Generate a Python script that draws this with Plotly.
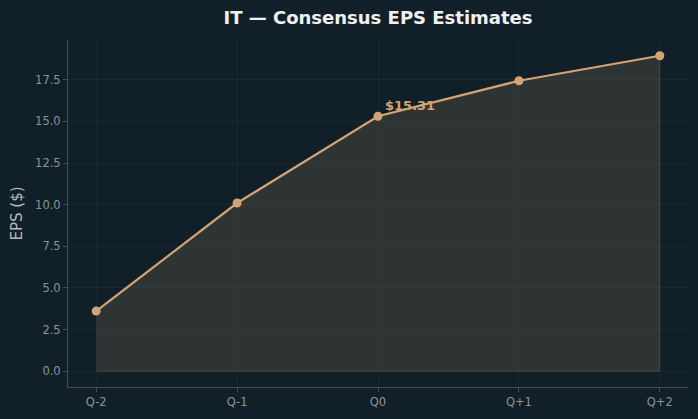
import plotly.graph_objects as go

categories = ["Q-2", "Q-1", "Q0", "Q+1", "Q+2"]
eps_values = [3.61, 10.10, 15.31, 17.44, 18.94]
y_tick_vals = [0.0, 2.5, 5.0, 7.5, 10.0, 12.5, 15.0, 17.5]
y_tick_text = ["0.0", "2.5", "5.0", "7.5", "10.0", "12.5", "15.0", "17.5"]
highlight_label = "$15.31"
highlight_index = 2

BG = "#112028"
LINE = "#d4a373"
FONT = "DejaVu Sans"

xi = list(range(len(categories)))
baseline = [0.0] * len(categories)

fig = go.Figure()
# filled area polygon (values down to zero)
fig.add_trace(go.Scatter(
    x=xi + xi[::-1], y=eps_values + baseline[::-1],
    fill="toself", fillcolor="rgba(212,163,115,0.15)",
    line=dict(color="rgba(212,163,115,0.18)", width=1),
    mode="lines", hoverinfo="skip", showlegend=False))
fig.add_trace(go.Scatter(
    x=xi, y=eps_values, mode="lines+markers",
    line=dict(color=LINE, width=2.2),
    marker=dict(color=LINE, size=9),
    showlegend=False))

fig.add_annotation(
    x=xi[highlight_index], y=eps_values[highlight_index],
    text="<b>" + highlight_label + "</b>", showarrow=False,
    xanchor="left", yanchor="bottom", xshift=5, yshift=1,
    font=dict(family=FONT, size=13, color=LINE))

fig.update_layout(
    width=698, height=419,
    margin=dict(l=68, r=10, t=40, b=32),
    paper_bgcolor=BG, plot_bgcolor=BG,
    font=dict(family=FONT),
    title=dict(text="<b>IT — Consensus EPS Estimates</b>", x=378/698, xanchor="center",
               y=1 - 18/419, yanchor="middle",
               font=dict(family=FONT, size=18, color="#f0f0f0")),
    xaxis=dict(range=[-0.2, 4.2], tickvals=xi, ticktext=categories,
               showgrid=True, gridcolor="rgba(255,255,255,0.035)", gridwidth=1,
               zeroline=False, showline=True, linecolor="#4a4d4c", linewidth=1,
               ticks="outside", ticklen=4, tickcolor="#4a4d4c",
               tickfont=dict(family=FONT, size=11.5, color="#8c9396")),
    yaxis=dict(range=[-0.947, 19.887], tickvals=y_tick_vals, ticktext=y_tick_text,
               showgrid=True, gridcolor="rgba(255,255,255,0.035)", gridwidth=1,
               zeroline=False, showline=True, linecolor="#4a4d4c", linewidth=1,
               ticks="outside", ticklen=4, tickcolor="#4a4d4c",
               tickfont=dict(family=FONT, size=11.5, color="#8c9396"),
               title=dict(text="EPS ($)", standoff=8,
                          font=dict(family=FONT, size=15, color="#b4b8ba"))),
)

fig.write_html("out.html")
